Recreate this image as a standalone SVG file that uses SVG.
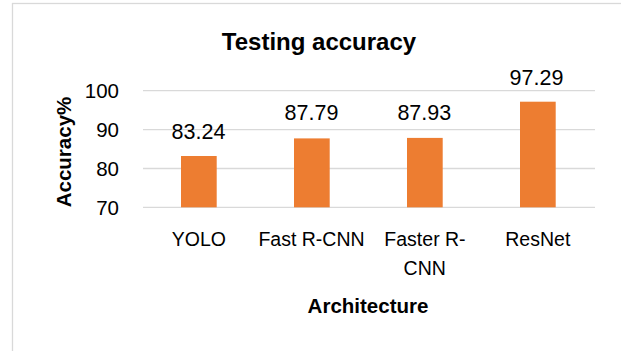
<svg xmlns="http://www.w3.org/2000/svg" width="621" height="351" viewBox="0 0 621 351">
  <style>
    text { font-family: "Liberation Sans", Arial, sans-serif; fill: #000; }
    .title { font-size: 24px; font-weight: bold; text-anchor: middle; }
    .axis-title { font-size: 20.5px; font-weight: bold; text-anchor: middle; }
    .tick { font-size: 20.5px; text-anchor: end; }
    .cat { font-size: 19.5px; text-anchor: middle; }
    .val { font-size: 21.5px; text-anchor: middle; }
    .grid { stroke: #D9D9D9; stroke-width: 1.3; fill: none; }
    .frame { stroke: #D9D9D9; stroke-width: 1.3; fill: #fff; }
    .bar { fill: #ED7D31; }
  </style>

  <!-- chart area frame (extends past the canvas on the right and bottom) -->
  <rect class="frame" x="12.5" y="3.5" width="700" height="400"/>

  <!-- chart title -->
  <text class="title" x="319" y="50">Testing accuracy</text>

  <!-- horizontal gridlines and value axis -->
  <g id="value-axis">
    <line class="grid" x1="143" y1="90.7" x2="595" y2="90.7"/>
    <line class="grid" x1="143" y1="129.6" x2="595" y2="129.6"/>
    <line class="grid" x1="143" y1="168.5" x2="595" y2="168.5"/>
    <line class="grid" x1="143" y1="207.3" x2="595" y2="207.3"/>
    <text class="tick" x="119" y="98">100</text>
    <text class="tick" x="119" y="137">90</text>
    <text class="tick" x="119" y="176">80</text>
    <text class="tick" x="119" y="215">70</text>
    <text class="axis-title" transform="translate(71,152) rotate(-90)">Accuracy%</text>
  </g>

  <!-- bars with data labels -->
  <g id="bar-yolo">
    <rect class="bar" x="181" y="156" width="35.7" height="51.3"/>
    <text class="val" x="198.5" y="138.5">83.24</text>
    <text class="cat" x="198.8" y="246">YOLO</text>
  </g>
  <g id="bar-fast-rcnn">
    <rect class="bar" x="294" y="138.4" width="35.7" height="68.9"/>
    <text class="val" x="311.5" y="120">87.79</text>
    <text class="cat" x="311.5" y="246">Fast R-CNN</text>
  </g>
  <g id="bar-faster-rcnn">
    <rect class="bar" x="407" y="137.9" width="35.7" height="69.4"/>
    <text class="val" x="424.3" y="120">87.93</text>
    <text class="cat" x="425" y="246">Faster R-</text>
    <text class="cat" x="424.7" y="275">CNN</text>
  </g>
  <g id="bar-resnet">
    <rect class="bar" x="520" y="101.7" width="35.7" height="105.6"/>
    <text class="val" x="536.5" y="85">97.29</text>
    <text class="cat" x="537.8" y="246">ResNet</text>
  </g>

  <!-- category axis title -->
  <text class="axis-title" x="368" y="313.3">Architecture</text>
</svg>
